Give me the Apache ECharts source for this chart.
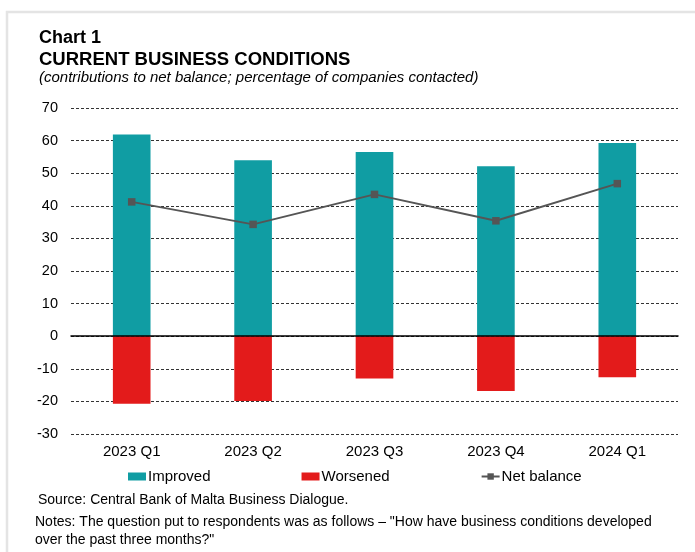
<!DOCTYPE html>
<html>
<head>
<meta charset="utf-8">
<script src="https://cdn.jsdelivr.net/npm/echarts@6/dist/echarts.min.js"></script>
<style>
  html, body { margin: 0; padding: 0; background: #fff; }
  #chart { width: 695px; height: 552px; }
</style>
</head>
<body>
<div id="chart"></div>
<script>
// Quarterly survey contributions to the business-conditions net balance
const quarters = ['2023 Q1', '2023 Q2', '2023 Q3', '2023 Q4', '2024 Q1'];
const improved = [61.9, 54.0, 56.5, 52.1, 59.3];
const worsened = [-20.7, -19.9, -13.0, -16.8, -12.6];
const netBalance = [41.2, 34.3, 43.5, 35.4, 46.8];
const yTicks = { min: -30, max: 70, step: 10 };

const FONT = '"Liberation Sans", Arial, Helvetica, sans-serif';
const TEAL = '#109DA3';
const RED = '#E31B1B';
const GREY = '#555555';

const chart = echarts.init(document.getElementById('chart'), null, { renderer: 'canvas' });

chart.setOption({
  backgroundColor: '#ffffff',
  animation: false,
  textStyle: { fontFamily: FONT, color: '#000' },
  graphic: [{
    type: 'rect',
    shape: { x: 7, y: 12, width: 720, height: 600 },
    style: { fill: 'none', stroke: '#e4e4e4', lineWidth: 2.5 },
    silent: true,
    z: -10
  }],
  title: [
    { text: 'Chart 1', left: 39, top: 28, padding: 0,
      textStyle: { fontFamily: FONT, fontSize: 18, fontWeight: 'bold', color: '#000', lineHeight: 20 } },
    { text: 'CURRENT BUSINESS CONDITIONS', left: 39, top: 50, padding: 0,
      textStyle: { fontFamily: FONT, fontSize: 18.5, fontWeight: 'bold', color: '#000', lineHeight: 20 } },
    { text: '(contributions to net balance; percentage of companies contacted)', left: 39, top: 69, padding: 0,
      textStyle: { fontFamily: FONT, fontSize: 15, fontStyle: 'italic', fontWeight: 'normal', color: '#000', lineHeight: 18 } },
    { text: 'Source: Central Bank of Malta Business Dialogue.', left: 38, top: 491, padding: 0,
      textStyle: { fontFamily: FONT, fontSize: 14, fontWeight: 'normal', color: '#000', lineHeight: 18 } },
    { text: 'Notes: The question put to respondents was as follows \u2013 "How have business conditions developed\nover the past three months?"',
      left: 35, top: 513, padding: 0,
      textStyle: { fontFamily: FONT, fontSize: 14, fontWeight: 'normal', color: '#000', lineHeight: 18 } }
  ],
  legend: {
    data: [
      { name: 'Improved', icon: 'rect' },
      { name: 'Worsened', icon: 'rect' },
      'Net balance'
    ],
    left: 128,
    top: 468,
    padding: 0,
    itemGap: 91,
    itemWidth: 18,
    itemHeight: 8,
    textStyle: { fontFamily: FONT, fontSize: 15, color: '#000', lineHeight: 17, padding: [0, 0, 0, -3] }
  },
  grid: { left: 71, right: 17, top: 108, bottom: 118, containLabel: false },
  xAxis: {
    type: 'category',
    data: quarters,
    z: 5,
    axisLine: { show: true, onZero: true, lineStyle: { color: '#000', width: 1.5 } },
    axisTick: { show: false },
    axisLabel: { fontFamily: FONT, fontSize: 15, color: '#000', margin: 10, interval: 0 },
    splitLine: { show: false }
  },
  yAxis: {
    type: 'value',
    min: yTicks.min,
    max: yTicks.max,
    interval: yTicks.step,
    axisLine: { show: false },
    axisTick: { show: false },
    axisLabel: { fontFamily: FONT, fontSize: 14.5, color: '#000', margin: 13 },
    splitLine: { show: true, lineStyle: { color: '#333', width: 1, type: [3, 2] } }
  },
  series: [
    {
      name: 'Improved',
      type: 'bar',
      stack: 'contrib',
      barWidth: '31%',
      itemStyle: { color: TEAL },
      data: improved
    },
    {
      name: 'Worsened',
      type: 'bar',
      stack: 'contrib',
      barWidth: '31%',
      itemStyle: { color: RED },
      data: worsened
    },
    {
      name: 'Net balance',
      type: 'line',
      symbol: 'rect',
      symbolSize: 7.5,
      z: 4,
      lineStyle: { color: GREY, width: 2 },
      itemStyle: { color: GREY },
      data: netBalance
    }
  ]
});
</script>
</body>
</html>
